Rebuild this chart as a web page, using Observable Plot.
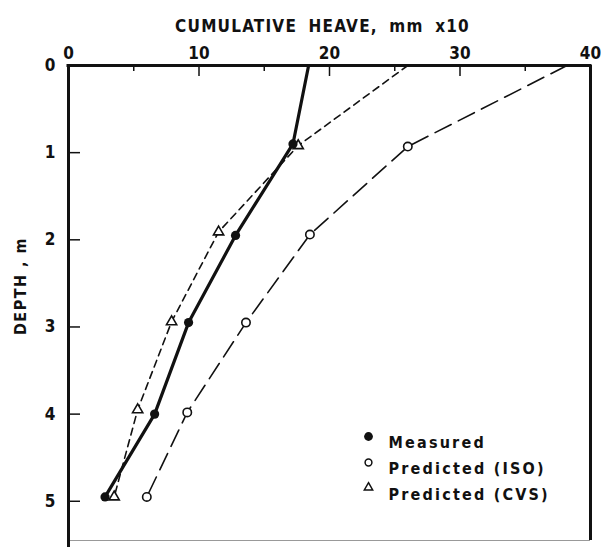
<!DOCTYPE html>
<html>
<head>
<meta charset="utf-8">
<script src="https://cdn.jsdelivr.net/npm/d3@7"></script>
<script src="https://cdn.jsdelivr.net/npm/@observablehq/plot@0.6"></script>
<style>
  html, body { margin: 0; padding: 0; background: #fff; }
  #chart svg { display: block; }
</style>
</head>
<body>
<div id="chart"></div>
<script>
// ---- data ----
const measuredDepth = [0, 0.90, 1.95, 2.95, 4.00, 4.95];
const measuredHeave = [18.4, 17.2, 12.8, 9.2, 6.6, 2.8];
const measuredHasMarker = [false, true, true, true, true, true];

const isoDepth = [0, 0.93, 1.94, 2.95, 3.98, 4.95];
const isoHeave = [38.2, 26.0, 18.5, 13.6, 9.1, 6.0];
const isoHasMarker = [false, true, true, true, true, true];

const cvsDepth = [0, 0.92, 1.91, 2.94, 3.95, 4.95];
const cvsHeave = [26.0, 17.6, 11.5, 7.9, 5.3, 3.5];
const cvsHasMarker = [false, true, true, true, true, true];

const xTicks = [0, 10, 20, 30, 40];
const xMinorTicks = [5, 15, 25, 35];
const yTicks = [0, 1, 2, 3, 4, 5];
const yInnerTicks = [1, 2, 3, 4, 5];
const legendLabels = ["Measured", "Predicted (ISO)", "Predicted (CVS)"];
const titleText = "CUMULATIVE HEAVE, mm x10";
const yTitleText = "DEPTH , m";

const toRows = (depth, heave, marker) => depth.map((d, i) => ({depth: d, heave: heave[i], marker: marker[i]}));
const measured = toRows(measuredDepth, measuredHeave, measuredHasMarker);
const iso = toRows(isoDepth, isoHeave, isoHasMarker);
const cvs = toRows(cvsDepth, cvsHeave, cvsHasMarker);

const FONT = "'DejaVu Sans Condensed', 'DejaVu Sans', sans-serif";

const chart = Plot.plot({
  width: 601,
  height: 547,
  marginTop: 65,
  marginLeft: 68,
  marginRight: 11,
  marginBottom: 7,
  style: {fontFamily: FONT, fontWeight: "bold", color: "#111", background: "#fff"},
  x: {domain: [0, 40], axis: null},
  y: {domain: [0, 5.45], reverse: true, axis: null},
  marks: [
    // axis tick labels
    Plot.axisX(xTicks, {anchor: "top", tickSize: 0, tickPadding: 7, fontSize: 17, fontWeight: "bold", label: null, tickFormat: "d"}),
    Plot.axisY(yTicks, {anchor: "left", tickSize: 0, tickPadding: 13, fontSize: 17, fontWeight: "bold", label: null, tickFormat: "d"}),
    // inward ticks
    Plot.ruleX(xTicks.slice(1, 4), {x: d => d, y1: 0, y2: 0, insetBottom: -11, stroke: "#111", strokeWidth: 1.5}),
    Plot.ruleX(xMinorTicks, {x: d => d, y1: 0, y2: 0, insetBottom: -6, stroke: "#111", strokeWidth: 1.5}),
    Plot.ruleY(yInnerTicks, {y: d => d, x1: 0, x2: 0, insetRight: -12, stroke: "#111", strokeWidth: 1.5}),
    // frame
    Plot.ruleY([5.45], {stroke: "#999", strokeWidth: 1}),
    Plot.ruleX([0], {stroke: "#111", strokeWidth: 3, insetBottom: -7}),
    Plot.ruleX([40], {stroke: "#111", strokeWidth: 3}),
    Plot.ruleY([0], {stroke: "#111", strokeWidth: 3, insetLeft: -1.5, insetRight: -1.5}),
    // series lines
    Plot.line(iso, {x: "heave", y: "depth", stroke: "#111", strokeWidth: 1.6, strokeDasharray: "18,8"}),
    Plot.line(cvs, {x: "heave", y: "depth", stroke: "#111", strokeWidth: 1.6, strokeDasharray: "7,5"}),
    Plot.line(measured, {x: "heave", y: "depth", stroke: "#111", strokeWidth: 3.2}),
    // markers
    Plot.dot(iso.filter(d => d.marker), {x: "heave", y: "depth", r: 4.2, fill: "#fff", stroke: "#111", strokeWidth: 1.6}),
    Plot.dot(cvs.filter(d => d.marker), {x: "heave", y: "depth", symbol: "triangle", r: 3.8, fill: "#fff", stroke: "#111", strokeWidth: 1.6}),
    Plot.dot(measured.filter(d => d.marker), {x: "heave", y: "depth", r: 4.6, fill: "#111"}),
    // legend
    Plot.dot([legendLabels[0]], {frameAnchor: "top-left", dx: 300, dy: 371, r: 4.4, fill: "#111"}),
    Plot.dot([legendLabels[1]], {frameAnchor: "top-left", dx: 300, dy: 397, r: 3.4, fill: "#fff", stroke: "#111", strokeWidth: 1.5}),
    Plot.dot([legendLabels[2]], {frameAnchor: "top-left", dx: 300, dy: 422, symbol: "triangle", r: 3.1, fill: "#fff", stroke: "#111", strokeWidth: 1.5}),
    Plot.text([legendLabels[0]], {frameAnchor: "top-left", dx: 320, dy: 371, text: d => d, textAnchor: "start", fontSize: 16, fontWeight: "bold"}),
    Plot.text([legendLabels[1]], {frameAnchor: "top-left", dx: 320, dy: 397, text: d => d, textAnchor: "start", fontSize: 16, fontWeight: "bold"}),
    Plot.text([legendLabels[2]], {frameAnchor: "top-left", dx: 320, dy: 423, text: d => d, textAnchor: "start", fontSize: 16, fontWeight: "bold"}),
    // titles
    Plot.text([titleText], {frameAnchor: "top", dx: -7, dy: -46, text: d => d, textAnchor: "middle", fontSize: 17, fontWeight: "bold"}),
    Plot.text([yTitleText], {frameAnchor: "left", dx: -48, dy: -17, rotate: -90, text: d => d, textAnchor: "middle", fontSize: 16, fontWeight: "bold"})
  ]
});

// letter spacing (text style only)
const spacing = new Map([
  ...legendLabels.map(l => [l, {ls: "2.2px", ws: null}]),
  [titleText, {ls: "1.2px", ws: "5px"}],
  [yTitleText, {ls: "1.5px", ws: null}]
]);
d3.select(chart).selectAll("text").each(function() {
  const s = spacing.get(this.textContent);
  if (s) {
    this.style.letterSpacing = s.ls;
    if (s.ws) this.style.wordSpacing = s.ws;
  }
});

document.getElementById("chart").appendChild(chart);
</script>
</body>
</html>
